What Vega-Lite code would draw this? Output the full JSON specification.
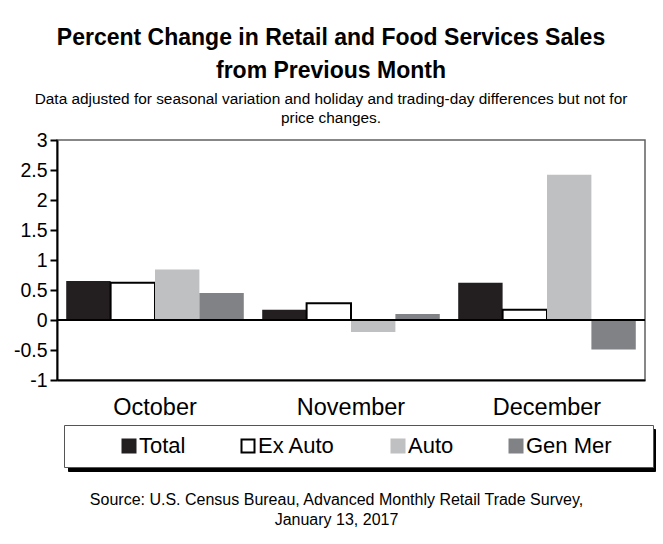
{
  "$schema": "https://vega.github.io/schema/vega-lite/v6.json",
  "width": 588,
  "height": 240,
  "autosize": {"type": "none"},
  "padding": {"left": 57, "top": 140, "right": 18, "bottom": 164},
  "background": "white",
  "title": {
    "text": ["Percent Change in Retail and Food Services Sales", "from Previous Month"],
    "subtitle": ["Data adjusted for seasonal variation and holiday and trading-day differences but not for", "price changes."],
    "anchor": "middle",
    "dx": -20,
    "font": "Liberation Sans",
    "fontSize": 23,
    "fontWeight": "bold",
    "lineHeight": 33,
    "color": "#000",
    "subtitleFont": "Liberation Sans",
    "subtitleFontSize": 15.4,
    "subtitleLineHeight": 19,
    "subtitleColor": "#000",
    "subtitlePadding": 9,
    "offset": 4
  },
  "data": {
    "values": [
      {"month": "October", "series": "Total", "value": 0.65},
      {"month": "October", "series": "Ex Auto", "value": 0.62},
      {"month": "October", "series": "Auto", "value": 0.84},
      {"month": "October", "series": "Gen Mer", "value": 0.45},
      {"month": "November", "series": "Total", "value": 0.17},
      {"month": "November", "series": "Ex Auto", "value": 0.28},
      {"month": "November", "series": "Auto", "value": -0.2},
      {"month": "November", "series": "Gen Mer", "value": 0.1},
      {"month": "December", "series": "Total", "value": 0.62},
      {"month": "December", "series": "Ex Auto", "value": 0.17},
      {"month": "December", "series": "Auto", "value": 2.42},
      {"month": "December", "series": "Gen Mer", "value": -0.49}
    ]
  },
  "layer": [
    {
      "mark": {"type": "rule", "color": "#000", "strokeWidth": 2},
      "encoding": {
        "y": {
          "datum": 0,
          "type": "quantitative",
          "scale": {"domain": [-1, 3], "nice": false, "zero": false},
          "axis": {
            "title": null,
            "values": [-1, -0.5, 0, 0.5, 1, 1.5, 2, 2.5, 3],
            "labelExpr": "'' + datum.value",
            "labelOverlap": false,
            "labelFlush": false,
            "labelFont": "Liberation Sans",
            "labelFontSize": 19.5,
            "labelColor": "#000",
            "labelPadding": 3,
            "tickSize": 7,
            "tickColor": "#000",
            "tickWidth": 2,
            "domainColor": "#000",
            "domainWidth": 2,
            "grid": false
          }
        },
        "opacity": {
          "datum": "shadow",
          "type": "nominal",
          "scale": {"range": [1, 1]},
          "legend": {
            "orient": "none",
            "legendX": 11,
            "legendY": 289,
            "direction": "horizontal",
            "title": " ",
            "titleOrient": "left",
            "titleFontSize": 1,
            "titlePadding": 545,
            "fillColor": "#000000",
            "strokeColor": "#000000",
            "padding": 10,
            "labelFont": "Liberation Sans",
            "labelFontSize": 22,
            "labelOffset": -1,
            "labelExpr": "'\u00a0'",
            "symbolType": "square",
            "symbolSize": 169,
            "symbolOpacity": 0,
            "symbolStrokeWidth": 2
          }
        }
      }
    },
    {
      "mark": {"type": "bar"},
      "encoding": {
        "x": {
          "field": "month",
          "type": "nominal",
          "sort": ["October", "November", "December"],
          "scale": {"paddingInner": 0.094, "paddingOuter": 0.047},
          "axis": {
            "title": ["Source: U.S. Census Bureau, Advanced Monthly Retail Trade Survey,", "January 13, 2017"],
            "titleFont": "Liberation Sans",
            "titleFontSize": 16,
            "titleFontWeight": "normal",
            "titleColor": "#000",
            "titleLineHeight": 20,
            "titleX": 279,
            "titleY": 111,
            "titleBaseline": "top",
            "titleAnchor": "middle",
            "titleAlign": "center",
            "labelAngle": 0,
            "labelFont": "Liberation Sans",
            "labelFontSize": 23.5,
            "labelColor": "#000",
            "labelPadding": 15,
            "ticks": false,
            "domainColor": "#000",
            "domainWidth": 2
          }
        },
        "xOffset": {
          "field": "series",
          "type": "nominal",
          "sort": ["Total", "Ex Auto", "Auto", "Gen Mer"],
          "scale": {"paddingInner": 0, "paddingOuter": 0}
        },
        "y": {
          "field": "value",
          "type": "quantitative",
          "scale": {"domain": [-1, 3], "nice": false, "zero": false},
          "axis": {
            "title": null,
            "values": [-1, -0.5, 0, 0.5, 1, 1.5, 2, 2.5, 3],
            "labelExpr": "'' + datum.value",
            "labelOverlap": false,
            "labelFlush": false,
            "labelFont": "Liberation Sans",
            "labelFontSize": 19.5,
            "labelColor": "#000",
            "labelPadding": 3,
            "tickSize": 7,
            "tickColor": "#000",
            "tickWidth": 2,
            "domainColor": "#000",
            "domainWidth": 2,
            "grid": false
          }
        },
        "fill": {
          "field": "series",
          "type": "nominal",
          "sort": ["Total", "Ex Auto", "Auto", "Gen Mer"],
          "scale": {"domain": ["Total", "Ex Auto", "Auto", "Gen Mer"], "range": ["#231f20", "#ffffff", "#bfc0c2", "#808285"]},
          "legend": {
            "orient": "none",
            "legendX": 7,
            "legendY": 285,
            "direction": "horizontal",
            "title": " ",
            "titleOrient": "left",
            "titleFontSize": 1,
            "titlePadding": 44,
            "fillColor": "#ffffff",
            "strokeColor": "#555555",
            "padding": 10,
            "labelFont": "Liberation Sans",
            "labelFontSize": 22,
            "labelColor": "#000",
            "labelOffset": -1,
            "labelExpr": "datum.label == 'Gen Mer' ? datum.label + '\u00a0\u00a0\u00a0\u00a0\u00a0\u200b' : datum.label",
            "symbolType": "square",
            "symbolSize": 169,
            "symbolStrokeWidth": 2,
            "columnPadding": 51
          }
        },
        "stroke": {
          "field": "series",
          "type": "nominal",
          "sort": ["Total", "Ex Auto", "Auto", "Gen Mer"],
          "scale": {"domain": ["Total", "Ex Auto", "Auto", "Gen Mer"], "range": ["#231f20", "#000000", "#bfc0c2", "#808285"]}
        },
        "strokeWidth": {
          "condition": {"test": "datum.series == 'Ex Auto'", "value": 2},
          "value": 0
        }
      }
    },
    {
      "mark": {"type": "rule", "color": "#000", "strokeWidth": 2},
      "encoding": {
        "y": {
          "datum": 0,
          "type": "quantitative",
          "scale": {"domain": [-1, 3], "nice": false, "zero": false},
          "axis": {
            "title": null,
            "values": [-1, -0.5, 0, 0.5, 1, 1.5, 2, 2.5, 3],
            "labelExpr": "'' + datum.value",
            "labelOverlap": false,
            "labelFlush": false,
            "labelFont": "Liberation Sans",
            "labelFontSize": 19.5,
            "labelColor": "#000",
            "labelPadding": 3,
            "tickSize": 7,
            "tickColor": "#000",
            "tickWidth": 2,
            "domainColor": "#000",
            "domainWidth": 2,
            "grid": false
          }
        }
      }
    }
  ],
  "config": {
    "view": {"stroke": "#606060", "strokeWidth": 1.5}
  }
}
